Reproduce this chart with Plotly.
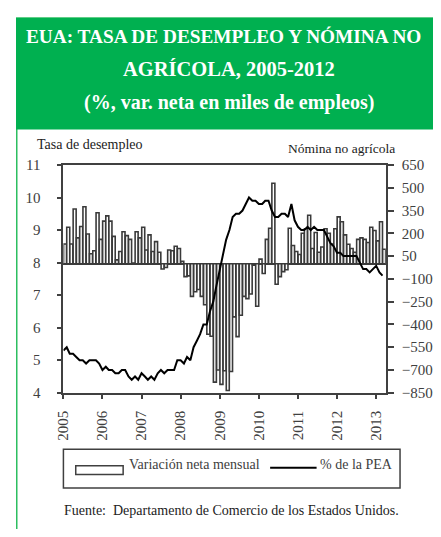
import pandas as pd
import plotly.graph_objects as go

# ---------------- data ----------------
months = pd.date_range("2005-01-01", periods=99, freq="MS")

unemployment_rate = [
    5.3, 5.4, 5.2, 5.2, 5.1, 5.0, 5.0, 4.9, 5.0, 5.0, 5.0, 4.9,   # 2005
    4.7, 4.8, 4.7, 4.7, 4.6, 4.6, 4.7, 4.7, 4.5, 4.4, 4.5, 4.4,   # 2006
    4.6, 4.5, 4.4, 4.5, 4.4, 4.6, 4.7, 4.6, 4.7, 4.7, 4.7, 5.0,   # 2007
    5.0, 4.9, 5.1, 5.0, 5.4, 5.6, 5.8, 6.1, 6.1, 6.5, 6.8, 7.3,   # 2008
    7.8, 8.3, 8.7, 9.0, 9.4, 9.5, 9.5, 9.6, 9.8, 10.0, 9.9, 9.9,  # 2009
    9.8, 9.8, 9.9, 9.9, 9.6, 9.4, 9.4, 9.5, 9.5, 9.4, 9.8, 9.3,   # 2010
    9.1, 9.0, 9.0, 9.1, 9.0, 9.1, 9.0, 9.0, 9.0, 8.8, 8.6, 8.5,   # 2011
    8.3, 8.3, 8.2, 8.2, 8.2, 8.2, 8.2, 8.0, 7.8, 7.8, 7.7, 7.8,   # 2012
    7.9, 7.7, 7.6,                                                # 2013
]

payroll_change = [
    130, 240, 130, 360, 170, 245, 375, 195, 65, 85, 335, 160,            # 2005
    280, 315, 280, 180, 25, 80, 210, 185, 160, 5, 210, 170,              # 2006
    240, 90, 190, 80, 145, 75, -35, -25, 90, 85, 115, 100,               # 2007
    15, -85, -80, -215, -185, -170, -215, -270, -465, -478, -780, -700,  # 2008
    -795, -705, -835, -710, -350, -480, -340, -215, -230, -200, -10, -280,  # 2009
    30, -65, 160, 233, 530, -135, -85, -52, -40, 233, 120, 80,           # 2010
    60, 200, 230, 319, 100, 205, 75, 110, 230, 200, 130, 230,            # 2011
    308, 276, 190, 128, 100, 75, 160, 170, 160, 140, 240, 219,           # 2012
    150, 276, 95,                                                        # 2013
]

year_ticks = ["2005", "2006", "2007", "2008", "2009", "2010", "2011", "2012", "2013"]
left_ticks = [4, 5, 6, 7, 8, 9, 10, 11]
right_ticks = [-850, -700, -550, -400, -250, -100, 50, 200, 350, 500, 650]

title_lines = [
    "EUA: TASA DE DESEMPLEO Y NÓMINA NO",
    "AGRÍCOLA, 2005-2012",
    "(%, var. neta en miles de empleos)",
]
bar_name = "Variación neta mensual"
line_name = "% de la PEA"
left_title = "Tasa de desempleo"
right_title = "Nómina no agrícola"
source_text = "Fuente:  Departamento de Comercio de los Estados Unidos."

# ---------------- layout helpers ----------------
# The page body keeps its default 8px margin, so the figure is sized to fit
# the 441x537 window and page pixel positions are converted accordingly.
OFF = 8
W, H = 441 - 2 * OFF, 537 - 2 * OFF
FONT = "Liberation Serif"
GREEN = "#00B050"
DARK = "#404040"


def px(x):
    return (x - OFF) / W


def py(y):
    return 1 - (y - OFF) / H


fig = go.Figure()

fig.add_trace(go.Bar(
    x=months, y=payroll_change, name=bar_name,
    xperiod="M1", xperiodalignment="middle",
    marker=dict(color="white", line=dict(color="#3a3a3a", width=1.6)),
    yaxis="y", showlegend=False,
))
fig.add_trace(go.Scatter(
    x=months, y=unemployment_rate, name=line_name, mode="lines",
    line=dict(color="black", width=2),
    yaxis="y2", showlegend=False,
))

dom_x = [px(58), px(398)]
dom_y = [py(396.7), py(161.7)]

fig.update_layout(
    width=W, height=H, autosize=False,
    margin=dict(l=0, r=0, t=0, b=0),
    paper_bgcolor="white", plot_bgcolor="white",
    font=dict(family=FONT, color=DARK),
    bargap=0.05,
    xaxis=dict(
        domain=dom_x, type="date",
        range=["2005-01-01", "2013-04-01"],
        tickvals=[f"{y}-01-01" for y in year_ticks],
        ticktext=year_ticks,
        tickangle=-90,
        ticks="outside", ticklen=4, tickcolor=DARK, tickwidth=1.5,
        showline=True, linecolor=DARK, linewidth=2, mirror=True,
        showgrid=False, zeroline=False,
        tickfont=dict(family=FONT, size=15, color=DARK),
        ticklabelstandoff=6,
    ),
    yaxis=dict(
        domain=dom_y, side="right",
        range=[-850, 650], tickvals=right_ticks,
        ticks="outside", ticklen=6, tickcolor=DARK, tickwidth=1.5,
        showline=True, linecolor=DARK, linewidth=2,
        showgrid=False,
        zeroline=True, zerolinecolor=DARK, zerolinewidth=1.5,
        tickfont=dict(family=FONT, size=15, color=DARK),
        ticklabelstandoff=5,
    ),
    yaxis2=dict(
        overlaying="y", side="left",
        range=[4, 11], tickvals=left_ticks,
        ticks="outside", ticklen=4, tickcolor=DARK, tickwidth=1.5,
        showline=True, linecolor=DARK, linewidth=2,
        showgrid=False, zeroline=False,
        tickfont=dict(family=FONT, size=15, color=DARK),
        ticklabelstandoff=14,
    ),
)

shapes = [
    # outer green frame
    dict(type="rect", xref="paper", yref="paper", x0=px(8.8), x1=px(480), y0=py(580), y1=py(10),
         line=dict(color="#2DBE60", width=1.5), fillcolor="rgba(0,0,0,0)", layer="below"),
    # green header block
    dict(type="rect", xref="paper", yref="paper", x0=px(8), x1=px(480), y0=py(125), y1=py(10),
         line=dict(width=0), fillcolor=GREEN, layer="below"),
    # legend box
    dict(type="rect", xref="paper", yref="paper", x0=px(58), x1=px(413), y0=py(495), y1=py(455),
         line=dict(color=DARK, width=1.5), fillcolor="rgba(0,0,0,0)"),
    # legend bar symbol
    dict(type="rect", xref="paper", yref="paper", x0=px(71), x1=px(121), y0=py(481), y1=py(472),
         line=dict(color=DARK, width=1.5), fillcolor="white"),
    # legend line symbol
    dict(type="line", xref="paper", yref="paper", x0=px(276), x1=px(325), y0=py(474), y1=py(474),
         line=dict(color="black", width=2)),
]
fig.update_layout(shapes=shapes)

ann = []
ann.append(dict(text=f"<b>{title_lines[0]}</b>", x=px(16), y=py(29), xanchor="left", yanchor="middle",
                font=dict(family=FONT, size=19.3, color="white")))
ann.append(dict(text=f"<b>{title_lines[1]}</b>", x=px(233), y=py(63), xanchor="center", yanchor="middle",
                font=dict(family=FONT, size=20.5, color="white")))
ann.append(dict(text=f"<b>{title_lines[2]}</b>", x=px(233), y=py(97), xanchor="center", yanchor="middle",
                font=dict(family=FONT, size=20, color="white")))
ann.append(dict(text=left_title, x=px(28), y=py(141), xanchor="left", yanchor="middle",
                font=dict(family=FONT, size=14, color="#222222")))
ann.append(dict(text=right_title, x=px(410), y=py(145), xanchor="right", yanchor="middle",
                font=dict(family=FONT, size=13.5, color="#222222")))
ann.append(dict(text=bar_name, x=px(125), y=py(471), xanchor="left", yanchor="middle",
                font=dict(family=FONT, size=14, color=DARK)))
ann.append(dict(text=line_name, x=px(326), y=py(471), xanchor="left", yanchor="middle",
                font=dict(family=FONT, size=14, color=DARK)))
ann.append(dict(text=source_text, x=px(56), y=py(518), xanchor="left", yanchor="middle",
                font=dict(family=FONT, size=14, color="#222222")))
for a in ann:
    a.update(xref="paper", yref="paper", showarrow=False)
fig.update_layout(annotations=ann)

fig.write_html("out.html", config={"displayModeBar": False})
